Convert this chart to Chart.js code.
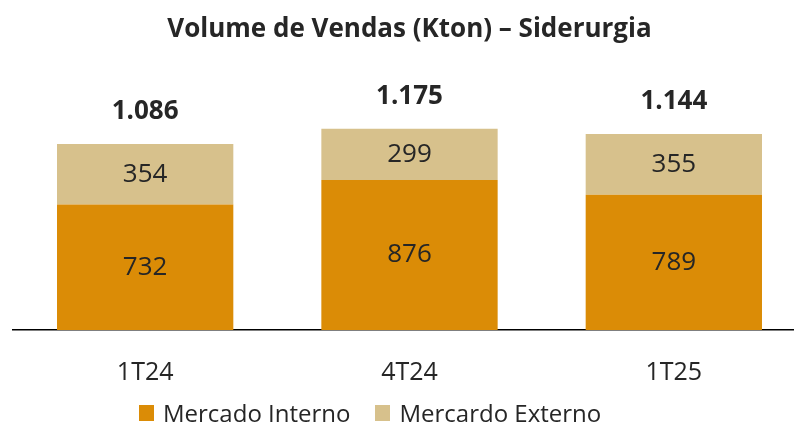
<!DOCTYPE html>
<html>
<head>
<meta charset="utf-8">
<script src="https://cdn.jsdelivr.net/npm/chart.js@4.4.1/dist/chart.umd.min.js"></script>
<style>
  html, body { margin: 0; padding: 0; background: #fff; overflow: hidden; }
  #wrap { position: relative; width: 806px; height: 432px; }
  #legend { position: absolute; left: 139px; top: 401px; display: flex; align-items: center;
            font: 24px 'Open Sans', 'Noto Sans', sans-serif; color: #262626; line-height: 24px; }
  #legend .item { display: flex; align-items: center; margin-right: 25px; white-space: nowrap; }
  #legend .box { width: 15px; height: 16px; margin-right: 9px; }
</style>
</head>
<body>
<div id="wrap">
  <canvas id="chart" width="806" height="432"></canvas>
  <div id="legend"></div>
</div>
<script>
// Volume de vendas - siderurgia (kton)
const categories = ['1T24', '4T24', '1T25'];
const mercadoInterno = [732, 876, 789];
const mercadoExterno = [354, 299, 355];
const totals = ['1.086', '1.175', '1.144'];

const FONT = "'Open Sans', 'Noto Sans', sans-serif";
const TEXT = '#262626';

// draws values inside the segments and the totals above the bars
const barLabels = {
    id: 'barLabels',
    afterDatasetsDraw(chart) {
        const ctx = chart.ctx;
        ctx.save();
        ctx.textAlign = 'center';
        ctx.textBaseline = 'middle';
        ctx.fillStyle = TEXT;
        chart.data.datasets.forEach((ds, i) => {
            const meta = chart.getDatasetMeta(i);
            meta.data.forEach((bar, j) => {
                ctx.font = '26px ' + FONT;
                ctx.fillText(ds.data[j], bar.x, (bar.y + bar.base) / 2);
                if (i === chart.data.datasets.length - 1) {
                    ctx.font = 'bold 26px ' + FONT;
                    ctx.fillText(totals[j], bar.x, bar.y - 32);
                }
            });
        });
        ctx.restore();
    }
};

const chart = new Chart(document.getElementById('chart'), {
    type: 'bar',
    data: {
        labels: categories,
        datasets: [
            {
                label: 'Mercado Interno',
                data: mercadoInterno,
                backgroundColor: '#DB8C06'
            },
            {
                label: 'Mercardo Externo',
                data: mercadoExterno,
                backgroundColor: '#D7C18C'
            }
        ]
    },
    options: {
        responsive: false,
        animation: false,
        layout: { padding: { left: 13, right: 0, top: 0, bottom: 24 } },
        datasets: { bar: { categoryPercentage: 0.667, barPercentage: 1 } },
        plugins: {
            title: {
                display: true,
                text: 'Volume de Vendas (Kton) – Siderurgia',
                color: TEXT,
                font: { family: FONT, size: 26, weight: 'bold' },
                padding: { top: 14, bottom: 45 }
            },
            legend: { display: false },
            tooltip: { enabled: false }
        },
        scales: {
            x: {
                stacked: true,
                grid: { display: false },
                border: { display: true, color: '#000', width: 1.5 },
                ticks: { color: TEXT, font: { family: FONT, size: 25 }, padding: 20 }
            },
            y: {
                stacked: true,
                display: false,
                min: 0,
                max: 1400
            }
        }
    },
    plugins: [barLabels]
});

// html legend built from the chart datasets
const legendEl = document.getElementById('legend');
chart.data.datasets.forEach(ds => {
    const item = document.createElement('div');
    item.className = 'item';
    const box = document.createElement('span');
    box.className = 'box';
    box.style.background = ds.backgroundColor;
    item.appendChild(box);
    item.appendChild(document.createTextNode(ds.label));
    legendEl.appendChild(item);
});
</script>
</body>
</html>
